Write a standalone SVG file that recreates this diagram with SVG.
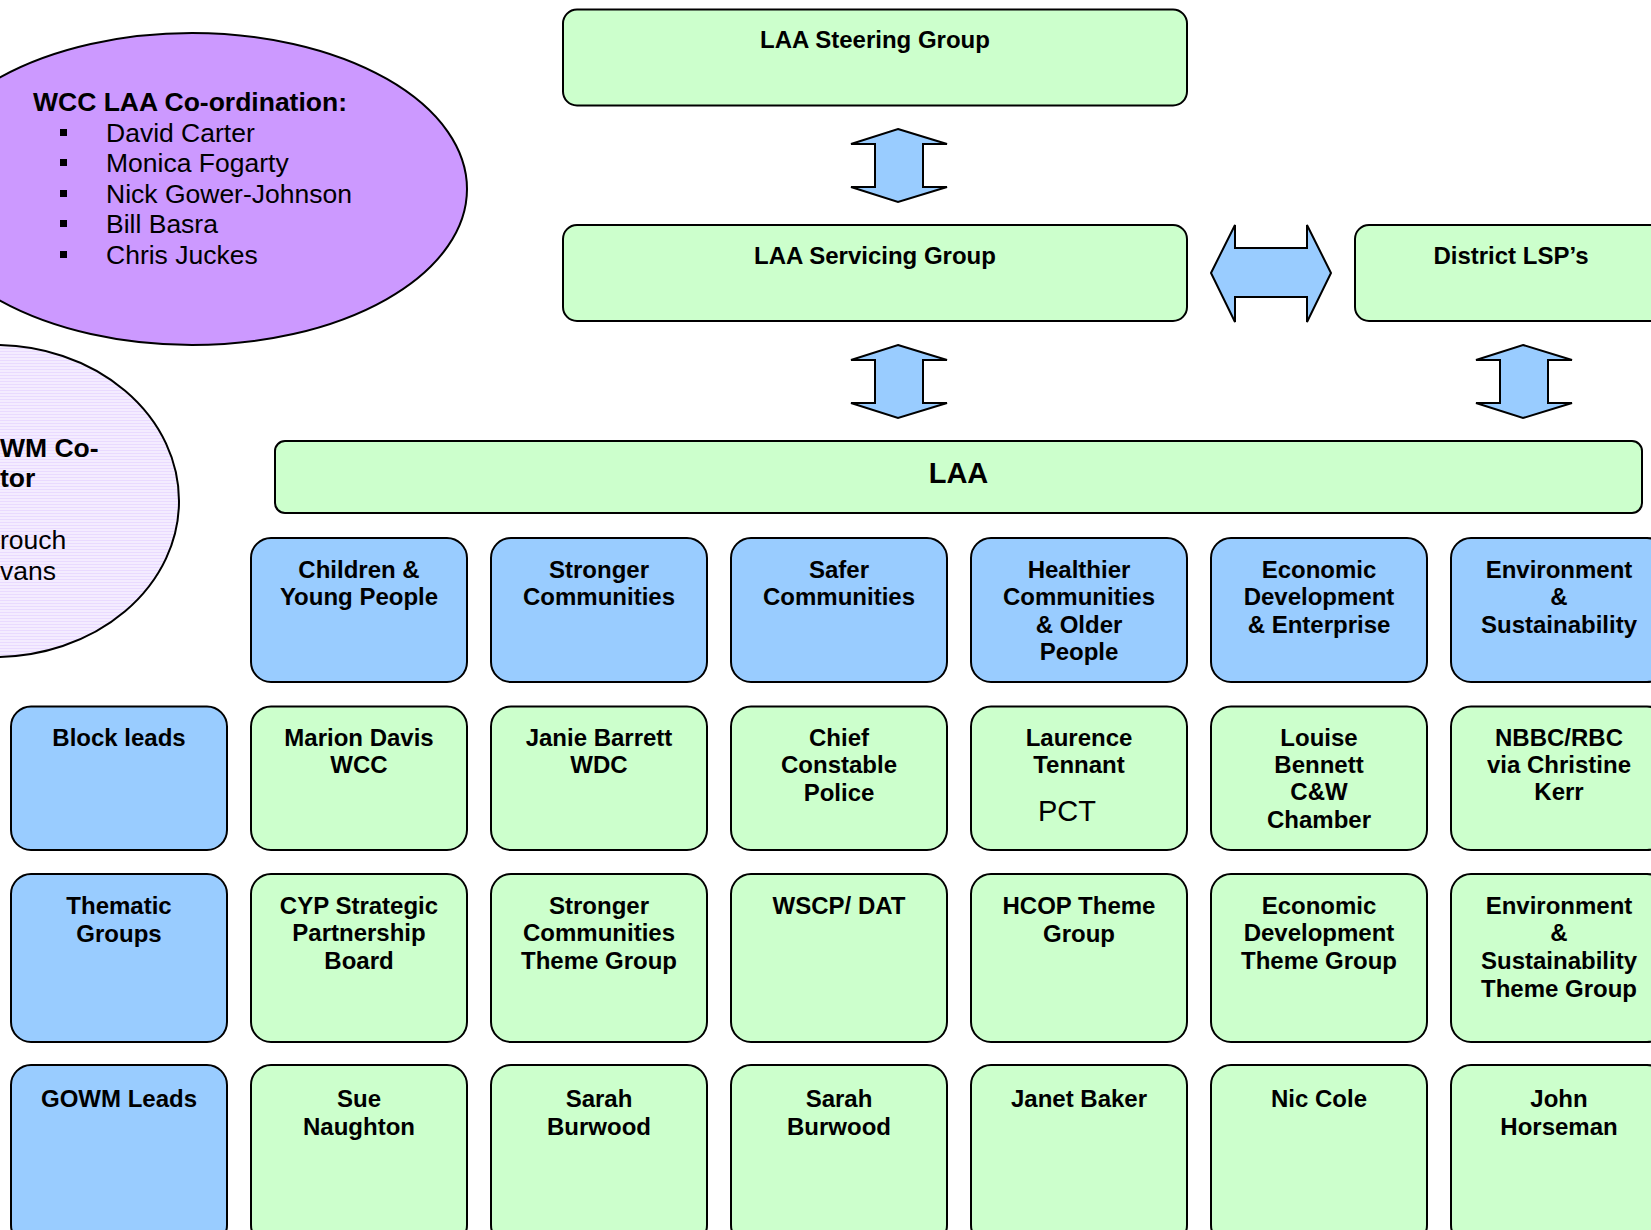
<svg xmlns="http://www.w3.org/2000/svg" width="1651" height="1230" viewBox="0 0 1651 1230">
<defs>
<style>
.g{fill:#CCFFCC;stroke:#000;stroke-width:2}
.b{fill:#99CCFF;stroke:#000;stroke-width:2}
.arr{fill:#99CCFF;stroke:#000;stroke-width:2;stroke-linejoin:miter}
.t{font-family:"Liberation Sans",Arial,sans-serif;font-weight:bold;font-size:24px;fill:#000;text-anchor:middle}
.e{font-family:"Liberation Sans",Arial,sans-serif;font-size:26.5px;fill:#000}
.eb{font-weight:bold}
</style>
<pattern id="stripes" width="4" height="3" patternUnits="userSpaceOnUse">
<rect width="4" height="3" fill="#F4ECFF"/>
<rect width="4" height="1" fill="#E9DAFF"/>
</pattern>
</defs>
<rect width="1651" height="1230" fill="#fff"/>

<g id="wcc-coordination">
<ellipse cx="192" cy="189" rx="275" ry="156" fill="#CC99FF" stroke="#000" stroke-width="2"/>
<text class="e eb" x="33" y="111">WCC LAA Co-ordination:</text>
<rect x="60" y="129" width="7" height="7"/>
<rect x="60" y="159" width="7" height="7"/>
<rect x="60" y="190" width="7" height="7"/>
<rect x="60" y="220" width="7" height="7"/>
<rect x="60" y="251" width="7" height="7"/>
<text class="e" x="106" y="142">David Carter</text>
<text class="e" x="106" y="172">Monica Fogarty</text>
<text class="e" x="106" y="203">Nick Gower-Johnson</text>
<text class="e" x="106" y="233">Bill Basra</text>
<text class="e" x="106" y="264">Chris Juckes</text>
</g>

<g id="gowm-coordinator">
<ellipse cx="-5" cy="501" rx="184" ry="156" fill="url(#stripes)" stroke="#000" stroke-width="2"/>
<text class="e eb" x="0" y="457">WM Co-</text>
<text class="e eb" x="0" y="487">tor</text>
<text class="e" x="0" y="549">rouch</text>
<text class="e" x="0" y="580">vans</text>
</g>

<g id="connectors">
<path class="arr" d="M898,129 L947,144 L923,144 L923,187 L947,187 L898,202 L851,187 L875,187 L875,144 L851,144 Z"/>
<path class="arr" d="M898,345 L947,360 L923,360 L923,403 L947,403 L898,418 L851,403 L875,403 L875,360 L851,360 Z"/>
<path class="arr" d="M1523,345 L1572,360 L1548,360 L1548,403 L1572,403 L1523,418 L1476,403 L1500,403 L1500,360 L1476,360 Z"/>
<path class="arr" d="M1211,273 L1235,225 L1235,248 L1307,248 L1307,225 L1331,273 L1307,322 L1307,297 L1235,297 L1235,322 Z"/>
</g>

<g id="steering"><rect class="g" x="563" y="9.5" width="624" height="96" rx="14"/><text class="t" x="875" y="47.5">LAA Steering Group</text></g>
<g id="servicing"><rect class="g" x="563" y="225" width="624" height="96" rx="14"/><text class="t" x="875" y="263.5">LAA Servicing Group</text></g>
<g id="district"><rect class="g" x="1355" y="225" width="312" height="96" rx="14"/><text class="t" x="1511" y="263.5">District LSP’s</text></g>
<g id="laa"><rect class="g" x="275" y="441" width="1367" height="72" rx="10"/><text class="t" x="958.5" y="483" style="font-size:29px">LAA</text></g>

<!-- Row 1 themes -->
<g id="cyp"><rect class="b" x="251" y="538" width="216" height="144" rx="20"/><text class="t" y="577.5"><tspan x="359">Children &amp;</tspan><tspan x="359" dy="27.5">Young People</tspan></text></g>
<g id="stronger"><rect class="b" x="491" y="538" width="216" height="144" rx="20"/><text class="t" y="577.5"><tspan x="599">Stronger</tspan><tspan x="599" dy="27.5">Communities</tspan></text></g>
<g id="safer"><rect class="b" x="731" y="538" width="216" height="144" rx="20"/><text class="t" y="577.5"><tspan x="839">Safer</tspan><tspan x="839" dy="27.5">Communities</tspan></text></g>
<g id="healthier"><rect class="b" x="971" y="538" width="216" height="144" rx="20"/><text class="t" y="577.5"><tspan x="1079">Healthier</tspan><tspan x="1079" dy="27.5">Communities</tspan><tspan x="1079" dy="27.5">&amp; Older</tspan><tspan x="1079" dy="27.5">People</tspan></text></g>
<g id="economic"><rect class="b" x="1211" y="538" width="216" height="144" rx="20"/><text class="t" y="577.5"><tspan x="1319">Economic</tspan><tspan x="1319" dy="27.5">Development</tspan><tspan x="1319" dy="27.5">&amp; Enterprise</tspan></text></g>
<g id="environment"><rect class="b" x="1451" y="538" width="216" height="144" rx="20"/><text class="t" y="577.5"><tspan x="1559">Environment</tspan><tspan x="1559" dy="27.5">&amp;</tspan><tspan x="1559" dy="27.5">Sustainability</tspan></text></g>

<!-- Row 2 block leads -->
<g id="block-leads"><rect class="b" x="11" y="706.5" width="216" height="143.5" rx="20"/><text class="t" x="119" y="745.5">Block leads</text></g>
<g id="lead-cyp"><rect class="g" x="251" y="706.5" width="216" height="143.5" rx="20"/><text class="t" y="745.5"><tspan x="359">Marion Davis</tspan><tspan x="359" dy="27">WCC</tspan></text></g>
<g id="lead-stronger"><rect class="g" x="491" y="706.5" width="216" height="143.5" rx="20"/><text class="t" y="745.5"><tspan x="599">Janie Barrett</tspan><tspan x="599" dy="27">WDC</tspan></text></g>
<g id="lead-safer"><rect class="g" x="731" y="706.5" width="216" height="143.5" rx="20"/><text class="t" y="745.5"><tspan x="839">Chief</tspan><tspan x="839" dy="27">Constable</tspan><tspan x="839" dy="28">Police</tspan></text></g>
<g id="lead-healthier"><rect class="g" x="971" y="706.5" width="216" height="143.5" rx="20"/><text class="t" y="745.5"><tspan x="1079">Laurence</tspan><tspan x="1079" dy="27">Tennant</tspan></text><text x="1038" y="821" style="font-family:'Liberation Sans',Arial,sans-serif;font-size:29px">PCT</text></g>
<g id="lead-economic"><rect class="g" x="1211" y="706.5" width="216" height="143.5" rx="20"/><text class="t" y="745.5"><tspan x="1319">Louise</tspan><tspan x="1319" dy="27">Bennett</tspan><tspan x="1319" dy="27.5">C&amp;W</tspan><tspan x="1319" dy="27.5">Chamber</tspan></text></g>
<g id="lead-environment"><rect class="g" x="1451" y="706.5" width="216" height="143.5" rx="20"/><text class="t" y="745.5"><tspan x="1559">NBBC/RBC</tspan><tspan x="1559" dy="27">via Christine</tspan><tspan x="1559" dy="27.5">Kerr</tspan></text></g>

<!-- Row 3 thematic groups -->
<g id="thematic-groups"><rect class="b" x="11" y="874" width="216" height="168" rx="20"/><text class="t" y="913.5"><tspan x="119">Thematic</tspan><tspan x="119" dy="28">Groups</tspan></text></g>
<g id="tg-cyp"><rect class="g" x="251" y="874" width="216" height="168" rx="20"/><text class="t" y="913.5"><tspan x="359">CYP Strategic</tspan><tspan x="359" dy="27.7">Partnership</tspan><tspan x="359" dy="27.7">Board</tspan></text></g>
<g id="tg-stronger"><rect class="g" x="491" y="874" width="216" height="168" rx="20"/><text class="t" y="913.5"><tspan x="599">Stronger</tspan><tspan x="599" dy="27.7">Communities</tspan><tspan x="599" dy="27.7">Theme Group</tspan></text></g>
<g id="tg-safer"><rect class="g" x="731" y="874" width="216" height="168" rx="20"/><text class="t" x="839" y="913.5">WSCP/ DAT</text></g>
<g id="tg-healthier"><rect class="g" x="971" y="874" width="216" height="168" rx="20"/><text class="t" y="913.5"><tspan x="1079">HCOP Theme</tspan><tspan x="1079" dy="28">Group</tspan></text></g>
<g id="tg-economic"><rect class="g" x="1211" y="874" width="216" height="168" rx="20"/><text class="t" y="913.5"><tspan x="1319">Economic</tspan><tspan x="1319" dy="27.7">Development</tspan><tspan x="1319" dy="27.7">Theme Group</tspan></text></g>
<g id="tg-environment"><rect class="g" x="1451" y="874" width="216" height="168" rx="20"/><text class="t" y="913.5"><tspan x="1559">Environment</tspan><tspan x="1559" dy="27.7">&amp;</tspan><tspan x="1559" dy="27.7">Sustainability</tspan><tspan x="1559" dy="27.7">Theme Group</tspan></text></g>

<!-- Row 4 GOWM leads -->
<g id="gowm-leads"><rect class="b" x="11" y="1065" width="216" height="180" rx="20"/><text class="t" x="119" y="1106.5">GOWM Leads</text></g>
<g id="gl-cyp"><rect class="g" x="251" y="1065" width="216" height="180" rx="20"/><text class="t" y="1106.5"><tspan x="359">Sue</tspan><tspan x="359" dy="28">Naughton</tspan></text></g>
<g id="gl-stronger"><rect class="g" x="491" y="1065" width="216" height="180" rx="20"/><text class="t" y="1106.5"><tspan x="599">Sarah</tspan><tspan x="599" dy="28">Burwood</tspan></text></g>
<g id="gl-safer"><rect class="g" x="731" y="1065" width="216" height="180" rx="20"/><text class="t" y="1106.5"><tspan x="839">Sarah</tspan><tspan x="839" dy="28">Burwood</tspan></text></g>
<g id="gl-healthier"><rect class="g" x="971" y="1065" width="216" height="180" rx="20"/><text class="t" x="1079" y="1106.5">Janet Baker</text></g>
<g id="gl-economic"><rect class="g" x="1211" y="1065" width="216" height="180" rx="20"/><text class="t" x="1319" y="1106.5">Nic Cole</text></g>
<g id="gl-environment"><rect class="g" x="1451" y="1065" width="216" height="180" rx="20"/><text class="t" y="1106.5"><tspan x="1559">John</tspan><tspan x="1559" dy="28">Horseman</tspan></text></g>
</svg>
